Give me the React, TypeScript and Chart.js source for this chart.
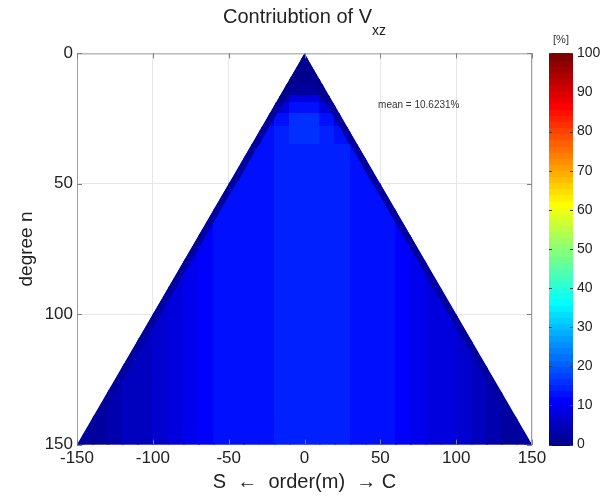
import React, { useEffect, useRef } from "react";
import { Chart, registerables } from "chart.js";

Chart.register(...registerables);

const FONT = "'Liberation Sans', Arial, Helvetica, sans-serif";

const titleText = "Contriubtion of V";
const titleSub = "xz";
const xTitle = "S  \u2190  order(m)  \u2192 C";
const yTitle = "degree n";
const colorbarUnit = "[%]";
const meanValue = 10.6231;

const maxDegree = 150;
const xTickValues = [-150, -100, -50, 0, 50, 100, 150];
const yTickValues = [0, 50, 100, 150];
const colorbarTicks = [0, 10, 20, 30, 40, 50, 60, 70, 80, 90, 100];

// order bin edges (m) and degree band edges (n)
const orderEdges = [-150, -140, -130, -120, -110, -100, -90, -80, -70, -60, -50, -40, -30, -20, -10, 0, 10, 20, 30, 40, 50, 60, 70, 80, 90, 100, 110, 120, 130, 140, 150];
const degreeEdges = [0, 12, 16, 19, 23, 28, 35, 50, 150];

// contribution [%] per order bin, one array per degree band
const band0to12 = [1, 1, 1, 1, 1, 1, 1, 1, 1, 1, 1, 1, 1, 1, 1, 1, 1, 1, 1, 1, 1, 1, 1, 1, 1, 1, 1, 1, 1, 1];
const band12to16 = [1, 1, 1, 1, 1, 1, 1, 1, 1, 1, 1, 1, 1, 1, 3, 3, 1, 1, 1, 1, 1, 1, 1, 1, 1, 1, 1, 1, 1, 1];
const band16to19 = [1, 1, 1, 1, 1, 1, 1, 1, 1, 1, 1, 1, 1, 4, 8, 8, 4, 1, 1, 1, 1, 1, 1, 1, 1, 1, 1, 1, 1, 1];
const band19to23 = [1, 1, 1, 1, 1, 1, 1, 1, 1, 1, 1, 1, 4, 9, 13, 13, 9, 4, 1, 1, 1, 1, 1, 1, 1, 1, 1, 1, 1, 1];
const band23to28 = [1, 1, 1, 1, 1, 1, 1, 1, 1, 1, 1, 1, 8, 13, 16, 16, 13, 8, 1, 1, 1, 1, 1, 1, 1, 1, 1, 1, 1, 1];
const band28to35 = [1, 1, 1, 1, 1, 1, 1, 1, 1, 1, 1, 9, 13, 15.5, 16.5, 16.5, 15.5, 13, 9, 1, 1, 1, 1, 1, 1, 1, 1, 1, 1, 1];
const band35to50 = [1, 1, 1, 1, 1, 1, 1, 1, 1, 1, 12.5, 13.5, 14, 14.5, 15.5, 15.5, 15, 14.5, 14, 13, 1, 1, 1, 1, 1, 1, 1, 1, 1, 1];
const band50to150 = [2, 2.5, 4, 5, 6, 7.5, 9, 10.5, 11.5, 12.5, 13, 13.5, 14, 14.5, 15, 15.5, 15, 14.5, 14, 13.5, 12.5, 11.5, 10.5, 9, 8, 6.5, 5, 4, 2.5, 2];
const bands = [band0to12, band12to16, band16to19, band19to23, band23to28, band28to35, band35to50, band50to150];

// near-sectoral strip along the triangle edges (|m| close to n), one value per degree band
const sectoralWidth = 5;
const sectoralValues = [1, 1, 1.5, 2, 2, 2.5, 3, 3];

function jetColor(v: number): string {
  const idx = Math.max(0, Math.min(63, Math.floor((v / 100) * 64)));
  const t = (idx + 1) / 64;
  const c = (u: number) => Math.round(255 * Math.max(0, Math.min(1, u)));
  return `rgb(${c(1.5 - Math.abs(4 * t - 3))},${c(1.5 - Math.abs(4 * t - 2))},${c(1.5 - Math.abs(4 * t - 1))})`;
}

const fieldPlugin = {
  id: "fieldPlugin",
  beforeDatasetsDraw(chart: any) {
    const { ctx, scales } = chart;
    const x = scales.x;
    const y = scales.y;
    const px = (m: number) => x.getPixelForValue(m);
    const py = (n: number) => y.getPixelForValue(n);
    ctx.save();
    ctx.beginPath();
    ctx.moveTo(px(0), py(0));
    ctx.lineTo(px(-maxDegree), py(maxDegree));
    ctx.lineTo(px(maxDegree), py(maxDegree));
    ctx.closePath();
    ctx.clip();
    bands.forEach((row, i) => {
      const y0 = py(degreeEdges[i]);
      const y1 = py(degreeEdges[i + 1]);
      row.forEach((v, j) => {
        const x0 = px(orderEdges[j]);
        const x1 = px(orderEdges[j + 1]);
        ctx.fillStyle = jetColor(v);
        ctx.fillRect(Math.floor(x0), Math.floor(y0), Math.ceil(x1) - Math.floor(x0) + 1, Math.ceil(y1) - Math.floor(y0) + 1);
      });
    });
    sectoralValues.forEach((v, i) => {
      const n0 = degreeEdges[i];
      const n1 = degreeEdges[i + 1];
      ctx.fillStyle = jetColor(v);
      [-1, 1].forEach((side) => {
        ctx.beginPath();
        ctx.moveTo(px(side * n0), py(n0) - 0.5);
        ctx.lineTo(px(side * n1), py(n1) + 0.5);
        ctx.lineTo(px(side * (n1 - sectoralWidth)), py(n1) + 0.5);
        ctx.lineTo(px(side * (n0 - sectoralWidth)), py(n0) - 0.5);
        ctx.closePath();
        ctx.fill();
      });
    });
    ctx.restore();
  },
  afterDraw(chart: any) {
    const { ctx, chartArea, scales } = chart;
    const x = scales.x;
    const y = scales.y;
    const c = scales.c;
    const { left, right, top, bottom } = chartArea;
    ctx.save();
    // box
    ctx.strokeStyle = "#a0a0a0";
    ctx.lineWidth = 1;
    ctx.beginPath();
    ctx.moveTo(left, top + 0.5);
    ctx.lineTo(right, top + 0.5);
    ctx.moveTo(right - 0.5, top);
    ctx.lineTo(right - 0.5, bottom);
    ctx.stroke();
    // inward ticks
    ctx.strokeStyle = "#808080";
    ctx.beginPath();
    xTickValues.forEach((m) => {
      const p = Math.round(x.getPixelForValue(m)) + 0.5;
      ctx.moveTo(p, top);
      ctx.lineTo(p, top + 5);
      ctx.moveTo(p, bottom);
      ctx.lineTo(p, bottom - 5);
    });
    yTickValues.forEach((n) => {
      const p = Math.round(y.getPixelForValue(n)) + 0.5;
      ctx.moveTo(left, p);
      ctx.lineTo(left + 5, p);
      ctx.moveTo(right, p);
      ctx.lineTo(right - 5, p);
    });
    ctx.stroke();

    // colorbar
    const cbL = right + 17;
    const cbR = right + 41;
    for (let k = 0; k < 64; k++) {
      const v0 = (k / 64) * 100;
      const v1 = ((k + 1) / 64) * 100;
      const yA = c.getPixelForValue(v0);
      const yB = c.getPixelForValue(v1);
      ctx.fillStyle = jetColor((v0 + v1) / 2);
      ctx.fillRect(cbL, Math.floor(yB), cbR - cbL, Math.ceil(yA) - Math.floor(yB) + 1);
    }
    ctx.strokeStyle = "#404040";
    ctx.beginPath();
    colorbarTicks.forEach((v) => {
      const p = Math.round(c.getPixelForValue(v)) + 0.5;
      ctx.moveTo(cbL, p);
      ctx.lineTo(cbL + 3, p);
      ctx.moveTo(cbR, p);
      ctx.lineTo(cbR - 3, p);
    });
    ctx.stroke();
    ctx.fillStyle = "#333";
    ctx.font = `11px ${FONT}`;
    ctx.textAlign = "center";
    ctx.textBaseline = "middle";
    ctx.fillText(colorbarUnit, (cbL + cbR) / 2, top - 13);

    // title with subscript
    ctx.font = `20px ${FONT}`;
    const w1 = ctx.measureText(titleText).width;
    ctx.font = `14px ${FONT}`;
    const w2 = ctx.measureText(titleSub).width;
    const start = (left + right) / 2 - (w1 + w2) / 2;
    ctx.textAlign = "left";
    ctx.textBaseline = "alphabetic";
    ctx.fillStyle = "#222";
    ctx.font = `20px ${FONT}`;
    ctx.fillText(titleText, start, 23);
    ctx.font = `14px ${FONT}`;
    ctx.fillText(titleSub, start + w1, 35);

    // mean annotation
    ctx.font = `10px ${FONT}`;
    ctx.fillStyle = "#333";
    ctx.textBaseline = "middle";
    ctx.fillText(`mean = ${meanValue}%`, x.getPixelForValue(48.5), y.getPixelForValue(19.8));
    ctx.restore();
  },
};

export default function App() {
  const ref = useRef<HTMLCanvasElement | null>(null);
  useEffect(() => {
    if (!ref.current) return;
    const chart = new Chart(ref.current, {
      type: "scatter",
      data: {
        datasets: [
          {
            label: "triangle",
            data: [
              { x: 0, y: 0 },
              { x: -maxDegree, y: maxDegree },
              { x: maxDegree, y: maxDegree },
            ],
            pointRadius: 0,
            showLine: false,
          },
        ],
      },
      options: {
        animation: false,
        responsive: false,
        devicePixelRatio: 1,
        layout: { padding: { top: 44, left: 0, right: 0, bottom: 0 } },
        plugins: { legend: { display: false }, tooltip: { enabled: false }, title: { display: false } },
        scales: {
          x: {
            type: "linear",
            min: -maxDegree,
            max: maxDegree,
            afterBuildTicks: (s: any) => {
              s.ticks = xTickValues.map((v) => ({ value: v }));
            },
            afterFit: (s: any) => {
              s.height = 53;
            },
            ticks: { font: { family: FONT, size: 17 }, color: "#222", padding: 4, maxRotation: 0 },
            grid: { color: "#e6e6e6", drawTicks: false },
            border: { color: "#a0a0a0" },
            title: { display: true, text: xTitle, font: { family: FONT, size: 20 }, color: "#222", padding: { top: 4, bottom: 3 } },
          },
          y: {
            type: "linear",
            reverse: true,
            min: 0,
            max: maxDegree,
            afterBuildTicks: (s: any) => {
              s.ticks = yTickValues.map((v) => ({ value: v }));
            },
            afterFit: (s: any) => {
              s.width = 77;
            },
            ticks: { font: { family: FONT, size: 17 }, color: "#222", padding: 4 },
            grid: { color: "#e6e6e6", drawTicks: false },
            border: { color: "#a0a0a0" },
            title: { display: true, text: yTitle, font: { family: FONT, size: 19 }, color: "#222", padding: { top: 15, bottom: 4 } },
          },
          c: {
            type: "linear",
            position: "right",
            min: 0,
            max: 100,
            afterBuildTicks: (s: any) => {
              s.ticks = colorbarTicks.map((v) => ({ value: v }));
            },
            afterFit: (s: any) => {
              s.width = 75;
            },
            ticks: { font: { family: FONT, size: 14 }, color: "#222", padding: 45 },
            grid: { display: false, drawTicks: false },
            border: { display: false },
          },
        },
      },
      plugins: [fieldPlugin],
    } as any);
    return () => chart.destroy();
  }, []);
  return (
    <div style={{ position: "absolute", left: 0, top: 0, width: 607, height: 498, background: "#fff" }}>
      <canvas ref={ref} width={607} height={498} style={{ display: "block" }} />
    </div>
  );
}
